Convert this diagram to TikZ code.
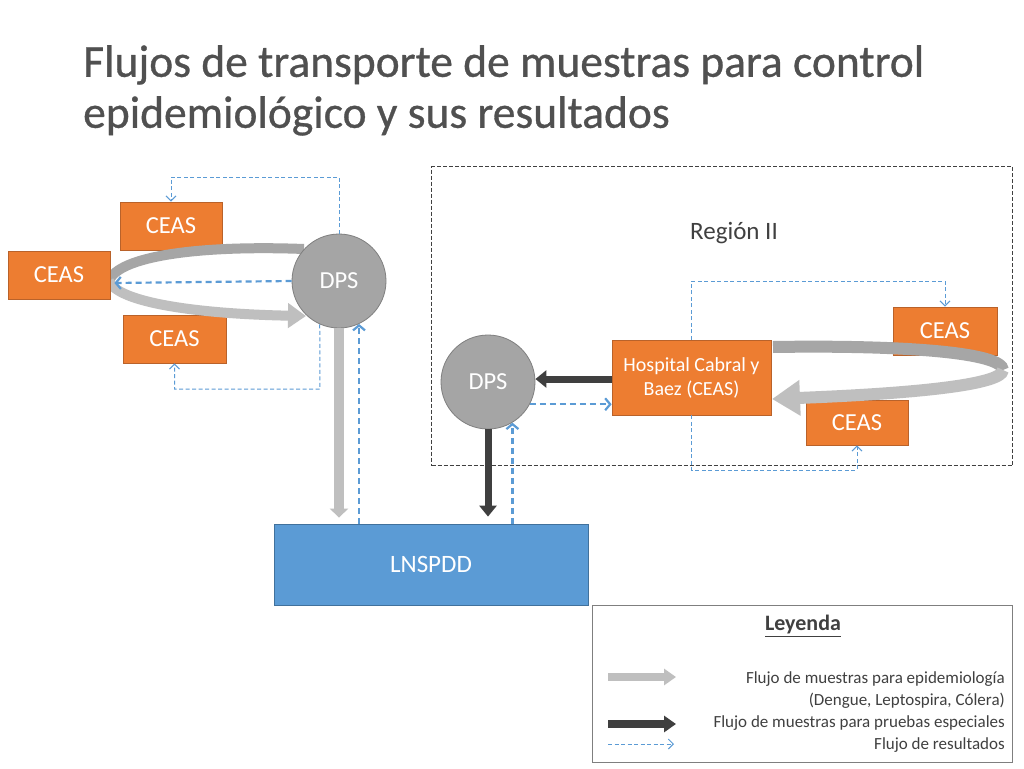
\documentclass[tikz,border=0pt]{standalone}
\usepackage{fontspec}
\setmainfont{Carlito}
\newfontface\titlefont[FakeBold=0.7]{Carlito}
\usetikzlibrary{arrows.meta}
\definecolor{orng}{HTML}{ED7D31}
\definecolor{orngB}{HTML}{B9622A}
\definecolor{gcirc}{HTML}{A5A5A5}
\definecolor{gcircB}{HTML}{7F7F7F}
\definecolor{blu}{HTML}{5B9BD5}
\definecolor{bluB}{HTML}{41719C}
\definecolor{gdark}{HTML}{A6A6A6}
\definecolor{glight}{HTML}{BFBFBF}
\definecolor{blk}{HTML}{3F3F3F}
\definecolor{txtg}{HTML}{505050}
\definecolor{txtd}{HTML}{404040}
\tikzset{
 ceas/.style={draw=orngB, fill=orng, line width=0.8pt, minimum width=102pt, minimum height=48pt,
   text=white, font=\fontsize{24.5}{28}\selectfont, inner sep=0pt},
 dps/.style={circle, draw=gcircB, fill=gcirc, line width=0.8pt, minimum size=94pt,
   text=white, font=\fontsize{24.5}{28}\selectfont, inner sep=0pt},
 lnsbox/.style={draw=bluB, fill=blu, line width=0.8pt, minimum width=314pt, minimum height=81pt,
   text=white, font=\fontsize{25}{28}\selectfont, inner sep=0pt},
 hospbox/.style={draw=orngB, fill=orng, line width=0.8pt, minimum width=159pt, minimum height=75pt,
   text=white, font=\fontsize{20}{24}\selectfont, align=center, inner sep=0pt},
 grayup/.style={draw=gdark, line width=10pt},
 graylo/.style={draw=glight, line width=10pt, -{Triangle[length=18pt,width=24pt]}},
 grayupR/.style={draw=gdark, line width=12pt},
 grayloR/.style={draw=glight, line width=12pt, -{Triangle[length=28pt,width=34pt]}},
 grayv/.style={draw=glight, line width=10pt, -{Triangle[length=9pt,width=18pt]}},
 darkarr/.style={draw=blk, line width=7pt, -{Triangle[length=11pt,width=17pt]}},
 bdash/.style={draw=blu, line width=2.2pt, dash pattern=on 6pt off 4pt,
   -{Straight Barb[length=5pt,width=12pt]}},
 tdash/.style={draw=blu, line width=1pt, dash pattern=on 4pt off 2.5pt,
   -{Straight Barb[length=5pt,width=10pt]}},
 legtxt/.style={anchor=east, inner sep=0pt, text=txtd, font=\fontsize{17}{20}\selectfont},
}
\begin{document}
\begin{tikzpicture}[x=1pt,y=-1pt]
\useasboundingbox (0,0) rectangle (1024,768);
\fill[white] (0,0) rectangle (1024,768);
% title
\node[anchor=north west, align=left, text=txtg, font=\titlefont\fontsize{45.5}{51}\selectfont, inner sep=0pt]
  (title) at (83,45) {Flujos de transporte de muestras para control\\epidemiológico y sus resultados};
% region II
\node[draw=txtd, dash pattern=on 4pt off 2pt, line width=1.2pt, minimum width=581pt, minimum height=299pt,
  anchor=north west, inner sep=0pt] (region) at (431,166) {};
\node[text=txtd, font=\fontsize{25}{28}\selectfont, inner sep=0pt] (regl) at (734,233) {Región II};
% left cluster
\node[ceas] (ceasA) at (171,226) {CEAS};
\node[ceas, minimum width=103pt] (ceasC) at (174.5,339) {CEAS};
\coordinate (lpA) at (304,249);
\coordinate (lpM) at (109,281);
\coordinate (lpT) at (306,316);
\draw[grayup] (lpA) .. controls (200,245) and (118,256) .. (lpM);
\draw[graylo] (lpM) .. controls (118,303) and (200,314) .. (lpT);
\node[ceas] (ceasB) at (59,275) {CEAS};
\node[dps] (dpsL) at (339,281) {DPS};
\draw[bdash] (dpsL.west) -- ([xshift=4pt,yshift=-8pt]ceasB.east);
\coordinate (tl) at (339,177);
\draw[tdash] (dpsL.north) -- (tl) -| (ceasA.north);
\coordinate (bl) at (320,389);
\draw[tdash] (dpsL.-114) -- (bl) -| (ceasC.south);
% LNSPDD
\node[lnsbox] (lns) at (431,564.5) {LNSPDD};
\draw[grayv] (dpsL.south) -- ([yshift=6pt]dpsL.south |- lns.north);
\draw[bdash] (dpsL.-65 |- lns.north) -- (dpsL.-65);
% right cluster
\node[dps] (dpsR) at (488,382) {DPS};
\node[ceas, minimum width=104pt] (ceasD) at (945,331) {CEAS};
\node[ceas, minimum height=45pt] (ceasE) at (857,422.5) {CEAS};
\coordinate (rpA) at (773,347);
\coordinate (rpM) at (1003,370);
\coordinate (rpT) at (772,399);
\draw[grayupR] (rpA) .. controls (900,345) and (1002,352) .. (rpM);
\draw[grayloR] (rpM) .. controls (1002,386) and (900,394) .. (rpT);
\node[hospbox] (hosp) at (691.5,377.5) {Hospital Cabral y\\Baez (CEAS)};
\draw[darkarr] ([yshift=-1.5pt]hosp.west) -- ([yshift=-1.5pt]hosp.west -| dpsR.east);
\draw[bdash] (dpsR.-28) -- (dpsR.-28 -| hosp.west);
\draw[darkarr] (dpsR.south) -- ([yshift=7pt]dpsR.south |- lns.north);
\draw[bdash] (dpsR.-59 |- lns.north) -- (dpsR.-59);
\coordinate (tr) at (691.5,281);
\draw[tdash] (hosp.north) -- (tr) -| (ceasD.north);
\coordinate (br) at (691.5,470);
\draw[tdash] (hosp.south) -- (br) -| (ceasE.south);
% legend
\node[draw=gcircB, line width=1pt, minimum width=420pt, minimum height=157pt,
  anchor=north west, inner sep=0pt] (leg) at (592,605) {};
\node[text=txtd, font=\bfseries\fontsize{22}{25}\selectfont, inner sep=0pt] (legt) at (803,626) {\underline{Leyenda}};
\coordinate (l1a) at (608,677);
\coordinate (l1b) at (676,677);
\draw[draw=glight, line width=8pt, -{Triangle[length=12pt,width=16pt]}] (l1a) -- (l1b);
\coordinate (l2a) at (608,724);
\coordinate (l2b) at (676,724);
\draw[draw=blk, line width=8pt, -{Triangle[length=12pt,width=16pt]}] (l2a) -- (l2b);
\coordinate (l3a) at (608,744);
\coordinate (l3b) at (674,744);
\draw[tdash] (l3a) -- (l3b);
\node[legtxt] (lt1) at (1005,679) {Flujo de muestras para epidemiología};
\node[legtxt] (lt2) at (1005,701) {(Dengue, Leptospira, Cólera)};
\node[legtxt] (lt3) at (1005,723) {Flujo de muestras para pruebas especiales};
\node[legtxt] (lt4) at (1005,745) {Flujo de resultados};
\end{tikzpicture}
\end{document}
